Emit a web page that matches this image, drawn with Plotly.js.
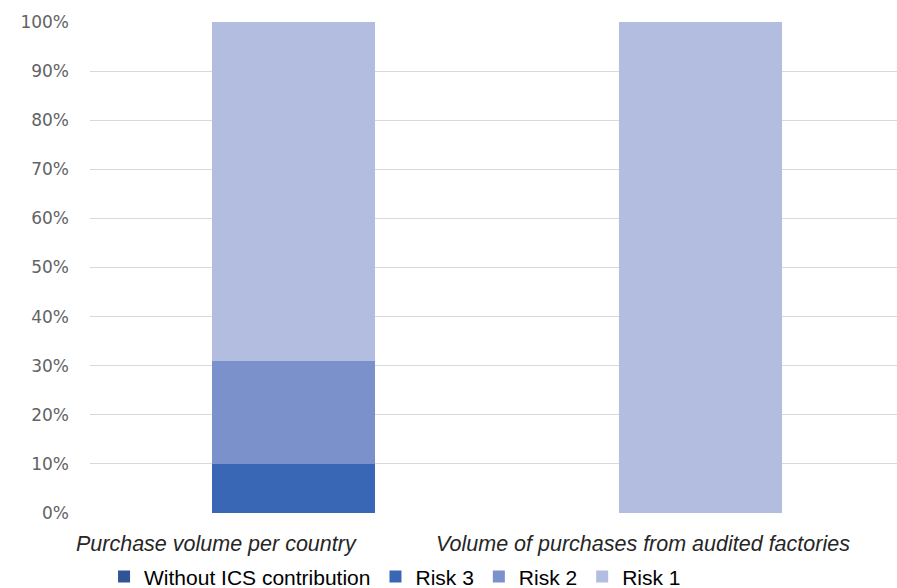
<!DOCTYPE html>
<html><head><meta charset="utf-8">
<script src="https://cdn.plot.ly/plotly-3.0.1.min.js"></script>
<style>html,body{margin:0;padding:0;background:#fff}#c{width:897px;height:588px}</style>
</head><body><div id="c"></div>
<script>
const categories = ["Purchase volume per country", "Volume of purchases from audited factories"];
const seriesNames = ["Without ICS contribution", "Risk 3", "Risk 2", "Risk 1"];
const withoutICS = [0, 0];
const risk3 = [10, 0];
const risk2 = [21, 0];
const risk1 = [69, 100];
const colors = ["#2F5597", "#3A67B5", "#7A91CB", "#B2BDDF"];
const seriesValues = [withoutICS, risk3, risk2, risk1];

const traces = seriesNames.map((n, i) => ({
  type: 'bar', name: n, x: categories, y: seriesValues[i],
  marker: {color: colors[i], line: {width: 0}}, width: 0.4, hoverinfo: 'y+name'
}));

// category labels are drawn shifted left of their bars, as in the reference
const labelShift = [-77, -57];
const annotations = categories.map((c, i) => ({
  x: c, xref: 'x', y: 0, yref: 'paper', yanchor: 'middle', xanchor: 'center',
  yshift: -31, xshift: labelShift[i], showarrow: false, text: c,
  font: {family: 'Liberation Sans, Arial, sans-serif', size: 21.5, color: '#262626', style: 'italic'}
}));

const layout = {
  width: 897, height: 588,
  margin: {l: 90, r: 0, t: 22, b: 75, autoexpand: false},
  barmode: 'stack',
  paper_bgcolor: '#fff', plot_bgcolor: '#fff',
  font: {family: 'DejaVu Sans, sans-serif', color: '#595959'},
  xaxis: {
    type: 'category', range: [-0.5, 1.483],
    showgrid: false, zeroline: false, showline: false, showticklabels: false
  },
  yaxis: {
    range: [0, 100], dtick: 10, ticksuffix: '%',
    gridcolor: '#D9D9D9', gridwidth: 1, zeroline: false, showline: false,
    tickfont: {family: 'DejaVu Sans, sans-serif', size: 17, color: '#636363'},
    ticklabelstandoff: 20
  },
  annotations: annotations,
  showlegend: true,
  legend: {
    orientation: 'h', x: 0.378, xanchor: 'center', y: -0.13, yanchor: 'middle',
    traceorder: 'normal',
    font: {family: 'Liberation Sans, Arial, sans-serif', size: 21, color: '#000'},
    itemwidth: 30, tracegroupgap: 0
  }
};
Plotly.newPlot('c', traces, layout, {displayModeBar: false, staticPlot: true});
</script></body></html>
